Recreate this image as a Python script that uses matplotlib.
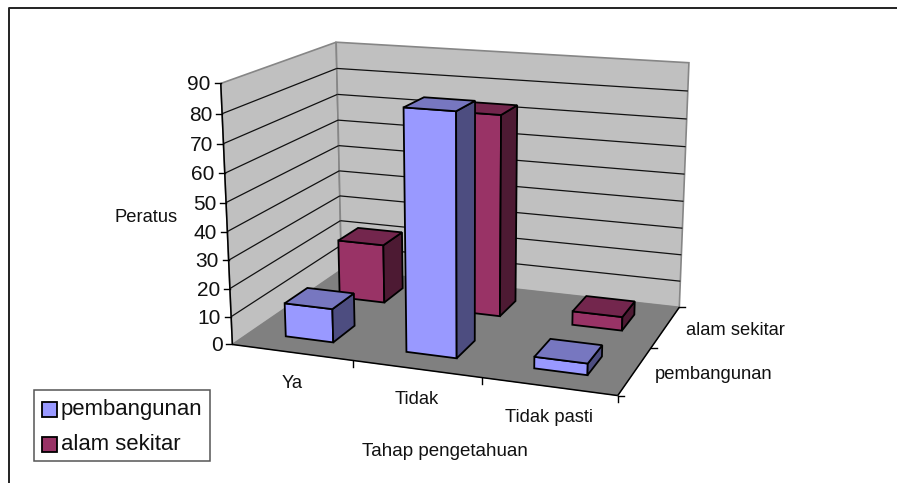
import matplotlib
matplotlib.use("Agg")
import matplotlib.pyplot as plt
import numpy as np
from matplotlib.patches import Polygon, Rectangle

plt.rcParams['font.family'] = ['Liberation Sans', 'DejaVu Sans']

# data
categories = ["Ya", "Tidak", "Tidak pasti"]
series_names = ["pembangunan", "alam sekitar"]
pembangunan = [12, 83.5, 4]
alam_sekitar = [22, 73.5, 5]
y_ticks = [0, 10, 20, 30, 40, 50, 60, 70, 80, 90]
y_max = 90

# colours
wall_color = "#c0c0c0"
floor_color = "#808080"
edge_grey = "#868686"
pemb_colors = ("#9999ff", "#4d4d80", "#7777c0")   # front, side, top
alam_colors = ("#993366", "#4d1a33", "#73264d")

# picture position of known chart box points: (category, depth, value) -> pixel
calib_3d = np.array([[0, 0, 0], [3, 0, 0], [3, 2, 0], [0, 2, 0],
                     [0, 0, 90], [0, 2, 90], [3, 2, 90],
                     [0, 0, 50], [0, 2, 50]], dtype=float)
calib_px = np.array([[232, 345], [618, 395], [679, 308], [342, 269],
                     [221, 84], [336, 42], [689, 62.5],
                     [226, 202], [338.5, 146]], dtype=float)


def fit_projection(pts, px):
	"""Fit the 3x4 camera matrix that takes chart coordinates to pixels"""
	rows = []
	for (x, y, z), (u, v) in zip(pts, px):
		rows.append([x, y, z, 1, 0, 0, 0, 0, -u * x, -u * y, -u * z, -u])
		rows.append([0, 0, 0, 0, x, y, z, 1, -v * x, -v * y, -v * z, -v])
	_, _, vt = np.linalg.svd(np.array(rows))
	return vt[-1].reshape(3, 4)


cam = fit_projection(calib_3d, calib_px)


def proj(x, y, z):
	h = cam @ np.array([x, y, z, 1.0])
	return h[0] / h[2], h[1] / h[2]


def face(ax, corners, color, edge="black", lw=1.3, z=2):
	ax.add_patch(Polygon([proj(*c) for c in corners], closed=True, facecolor=color,
	                     edgecolor=edge, linewidth=lw, joinstyle="miter", zorder=z))


def line3d(ax, a, b, color="black", lw=1.0, z=1.5):
	pa, pb = proj(*a), proj(*b)
	ax.plot([pa[0], pb[0]], [pa[1], pb[1]], color=color, lw=lw, zorder=z, solid_capstyle="butt")


def bar3d(ax, cat, row, value, colors, width=0.4):
	x0, x1 = cat + (1 - width) / 2, cat + (1 + width) / 2
	y0, y1 = row + (1 - width) / 2, row + (1 + width) / 2
	face(ax, [(x0, y0, 0), (x1, y0, 0), (x1, y0, value), (x0, y0, value)], colors[0])
	face(ax, [(x1, y0, 0), (x1, y1, 0), (x1, y1, value), (x1, y0, value)], colors[1])
	face(ax, [(x0, y0, value), (x1, y0, value), (x1, y1, value), (x0, y1, value)], colors[2])


fig = plt.figure(figsize=(8.97, 4.83), dpi=100)
ax = fig.add_axes([0, 0, 1, 1])
ax.set_xlim(0, 897)
ax.set_ylim(483, 0)
ax.axis("off")

# outer frame of the chart, cut by the page on the right and at the bottom
ax.plot([9, 9, 897], [483, 7.5, 7.5], color="#222222", lw=1.4, zorder=1)

n_cat = len(categories)
n_row = len(series_names)

# walls and floor
face(ax, [(0, 0, 0), (0, n_row, 0), (0, n_row, y_max), (0, 0, y_max)], wall_color, edge_grey, 1.2, 1)
face(ax, [(0, n_row, 0), (n_cat, n_row, 0), (n_cat, n_row, y_max), (0, n_row, y_max)], wall_color, edge_grey, 1.2, 1)
face(ax, [(0, 0, 0), (n_cat, 0, 0), (n_cat, n_row, 0), (0, n_row, 0)], floor_color, floor_color, 0.5, 1.2)

# gridlines on the walls
for val in y_ticks[1:-1]:
	line3d(ax, (0, 0, val), (0, n_row, val), color="#111111", lw=0.9)
	line3d(ax, (0, n_row, val), (n_cat, n_row, val), color="#111111", lw=0.9)

# axis lines
line3d(ax, (0, 0, 0), (0, 0, y_max), lw=1.1, z=1.6)
line3d(ax, (0, 0, 0), (n_cat, 0, 0), lw=1.1, z=1.6)
line3d(ax, (n_cat, 0, 0), (n_cat, n_row, 0), lw=1.1, z=1.6)

# tick marks and tick labels
for val in y_ticks:
	px, py = proj(0, 0, val)
	ax.plot([px - 6, px], [py, py], color="black", lw=1.0, zorder=1.6)
	ax.text(px - 10, py + 1.5, str(val), ha="right", va="center", fontsize=15, color="#111111")
for i in range(1, n_cat + 1):
	px, py = proj(i, 0, 0)
	ax.plot([px, px], [py, py + 6], color="black", lw=1.0, zorder=1.6)
for i in range(n_row + 1):
	px, py = proj(n_cat, i, 0)
	ax.plot([px, px + 6], [py, py], color="black", lw=1.0, zorder=1.6)

for i, name in enumerate(categories):
	px, py = proj(i + 0.5, 0, 0)
	ax.text(px, py + 31, name, ha="center", va="center", fontsize=13.2, color="#111111")
for i, name in enumerate(series_names):
	px, py = proj(n_cat, i + 0.5, 0)
	ax.text(px + 20, py + 3.5, name, ha="left", va="center", fontsize=13.2, color="#111111")

ax.text(146, 218, "Peratus", ha="center", va="center", fontsize=13.2, color="#111111")
ax.text(445, 451, "Tahap pengetahuan", ha="center", va="center", fontsize=13.5, color="#111111")

# bars, back row first so the front row covers it
for cat, value in enumerate(alam_sekitar):
	bar3d(ax, cat, 1, value, alam_colors)
for cat, value in enumerate(pembangunan):
	bar3d(ax, cat, 0, value, pemb_colors)

# legend box
ax.add_patch(Rectangle((33.5, 390), 176, 71, facecolor="white", edgecolor="#555555", lw=1.1, zorder=3))
for name, colors, ly in zip(series_names, (pemb_colors, alam_colors), (409, 444)):
	ax.add_patch(Rectangle((41.7, ly - 7.5), 15, 15, facecolor=colors[0], edgecolor="black", lw=1.3, zorder=4))
	ax.text(61, ly + 1, name, ha="left", va="center", fontsize=15.9, color="#111111", zorder=4)

fig.savefig("out.png", dpi=100)
